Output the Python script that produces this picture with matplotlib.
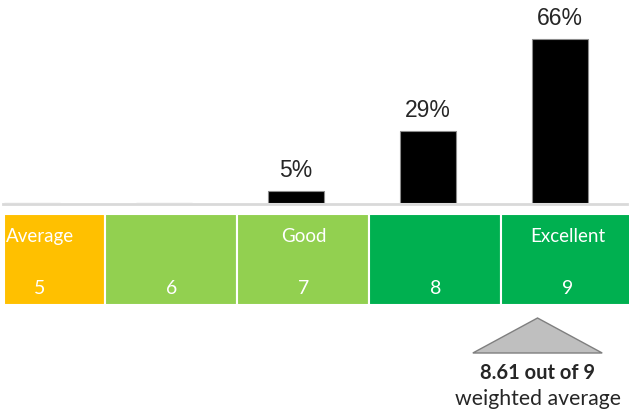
import matplotlib.pyplot as plt
from matplotlib.patches import Polygon

# data
scores = [5, 6, 7, 8, 9]
shares = [0, 0, 5, 29, 66]          # % of responses
band_names = ["Average", "", "Good", "", "Excellent"]
band_colors = ["#FFC000", "#92D050", "#92D050", "#00B050", "#00B050"]
avg_score = 8.61
max_score = 9
marker_x = 8.83                     # where the triangle sits on the band strip

W, H = 629, 419
fig = plt.figure(figsize=(W / 100, H / 100), dpi=100)

xlim = (4.758, 9.523)
base_px = 203          # baseline, pixels from top
px_per_pct = 2.485

# bars (top part)
ax = fig.add_axes([0, 1 - base_px / H, 1, base_px / H])
ax.set_xlim(*xlim)
ax.set_ylim(0, base_px / px_per_pct)
ax.axis("off")
bars = ax.bar(scores, shares, width=0.43, color="black", edgecolor="#8c8c8c", linewidth=0.8, zorder=3)
for s, v in zip(scores, shares):
    if v > 0:
        ax.text(s, v + 3.6, f"{v}%", ha="center", va="bottom",
                fontsize=16.5, family="Liberation Sans", color="#262626")

# bands + marker (bottom part)
ax2 = fig.add_axes([0, 0, 1, 1 - base_px / H])
ax2.set_xlim(*xlim)
ax2.set_ylim(H, base_px)
ax2.axis("off")
ax2.plot([4.78, 9.51], [base_px + 0.5, base_px + 0.5], color="#d9d9d9", lw=2, clip_on=False)

top, bot = 214, 305
for s, name, col in zip(scores, band_names, band_colors):
    left = max(s - 0.45, 4.79)
    right = s + 0.55
    ax2.bar(left, bot - top, bottom=top, width=right - left, align="edge",
            color=col, edgecolor="white", linewidth=1.5)
    if name:
        ax2.text(s + 0.06, 236, name, ha="center", va="center", color="white",
                 fontsize=13.5, family="Lato")
    ax2.text(s + 0.06, 288, str(s), ha="center", va="center", color="white",
             fontsize=14, family="Lato")

tri = Polygon([[marker_x, 318], [marker_x - 0.49, 353], [marker_x + 0.49, 353]],
              closed=True, facecolor="#bfbfbf", edgecolor="#7f7f7f", linewidth=1)
ax2.add_patch(tri)
ax2.text(marker_x, 373, f"{avg_score} out of {max_score}", ha="center", va="center",
         fontsize=14.5, fontweight="bold", family="Lato", color="#262626")
ax2.text(marker_x, 399, "weighted average", ha="center", va="center",
         fontsize=15.3, family="Lato", color="#262626")

fig.savefig("out.png", dpi=100)
